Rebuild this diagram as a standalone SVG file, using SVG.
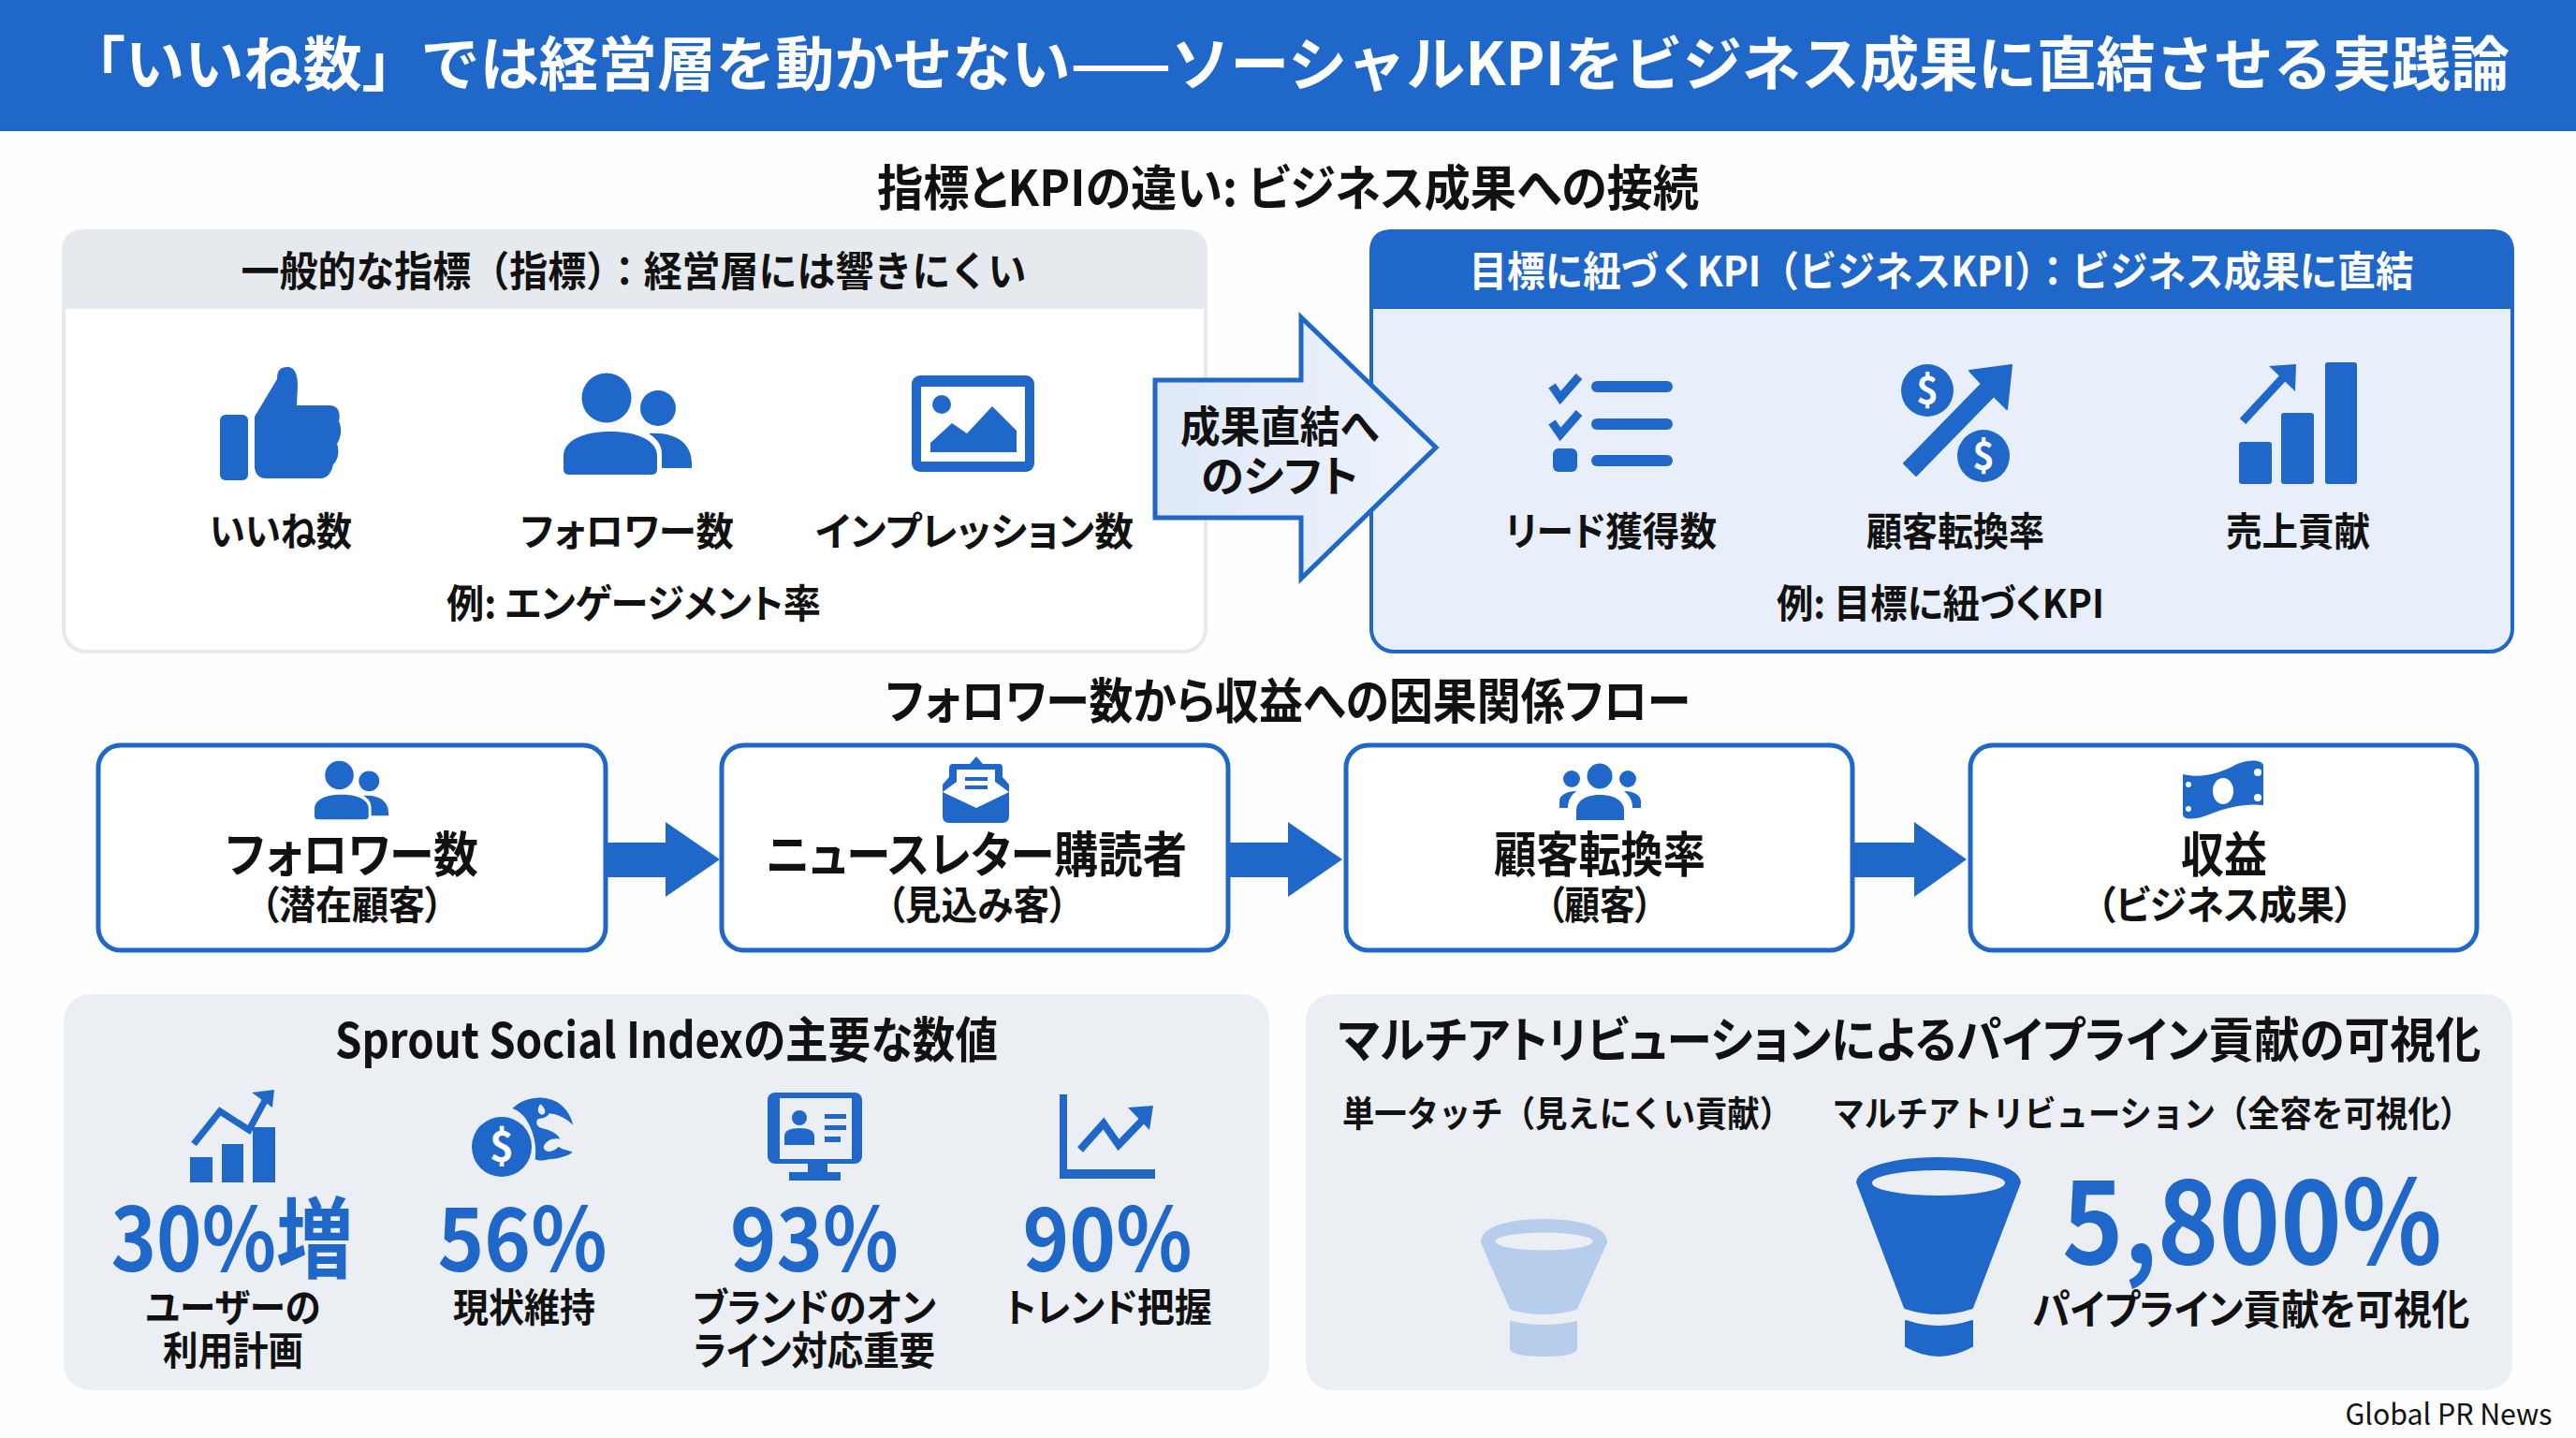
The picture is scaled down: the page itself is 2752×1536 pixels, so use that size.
<svg xmlns="http://www.w3.org/2000/svg" width="2752" height="1536" viewBox="0 0 2752 1536">
<style>
text{font-family:"Noto Sans CJK JP","Noto Sans",sans-serif;font-weight:700;fill:#111;text-anchor:middle;font-feature-settings:"palt";}
.fw{font-feature-settings:normal}
.t44{font-size:44px}.t42{font-size:42px}.t40{font-size:42px}.t50{font-size:52px}.t38{font-size:38px}
.w{fill:#fff}.num{fill:#1f67c9;font-size:94px}
.blue{fill:#1f67c9}.flowbox{fill:#fff;stroke:#1f67c9;stroke-width:5}
.soft{fill:#ebeff4}
.bar{fill:#1f67c9;stroke:none}
.ln{fill:none;stroke:#1f67c9;stroke-linejoin:miter}
</style>
<defs>
<g id="people">
<circle class="blue" cx="46" cy="26" r="26.5"/><circle class="blue" cx="101" cy="37" r="19"/>
<path class="blue" d="M0 102V88C0 72 20 62 50 62C80 62 100 72 100 88V102Q100 108 94 108H6Q0 108 0 102Z"/>
<path class="blue" d="M91 64C122 62 137 76 137 96V101H105V86C105 76 100 70 91 64Z"/>
</g>
<linearGradient id="shiftFill" x1="0" x2="1"><stop offset="0" stop-color="#dfe9f8"/><stop offset="1" stop-color="#eef3fb"/></linearGradient>
</defs>
<rect width="2752" height="1536" fill="#fefefe"/>
<g id="title-bar"><rect width="2752" height="140" class="blue"/>
<text class="w fw" x="1376" y="91" style="font-size:63px" textLength="2610" lengthAdjust="spacingAndGlyphs">「いいね数」では経営層を動かせない——ソーシャルKPIをビジネス成果に直結させる実践論</text></g>
<text class="t50" x="1376" y="220" textLength="878" lengthAdjust="spacingAndGlyphs">指標とKPIの違い: ビジネス成果への接続</text>

<g id="metrics-panel">
<rect x="68" y="247" width="1220" height="449" rx="24" fill="#fff" stroke="#e6eaef" stroke-width="4"/>
<path d="M66 330V269Q66 245 90 245H1266Q1290 245 1290 269V330Z" fill="#e6eaef"/>
<text class="t44 fw" x="677" y="306" textLength="839" lengthAdjust="spacingAndGlyphs">一般的な指標（指標）：経営層には響きにくい</text>
<g id="icon-like"><rect class="blue" x="235" y="443" width="30" height="70" rx="6"/>
<path class="blue" d="M272 445L296 405C296 395 300 392 307 392C315 392 318 400 318 412L317 433L352 433C362 433 364 442 362 450C366 458 364 468 360 474C363 482 361 492 356 496C354 505 350 511 342 511L284 511C276 511 272 505 272 498Z"/></g>
<use href="#people" x="602" y="399"/>
<g id="icon-image"><rect class="blue" x="974" y="401" width="131" height="103" rx="9"/><rect x="984" y="413" width="111" height="80" fill="#fff"/>
<circle class="blue" cx="1006" cy="432" r="10"/>
<path class="blue" d="M994 483V473L1017 452L1033 463L1060 434L1086 460V483Z"/></g>
<text class="t42" x="300" y="583" textLength="152" lengthAdjust="spacingAndGlyphs">いいね数</text>
<text class="t42" x="670" y="583" textLength="228" lengthAdjust="spacingAndGlyphs">フォロワー数</text>
<text class="t42" x="1041" y="583" textLength="340" lengthAdjust="spacingAndGlyphs">インプレッション数</text>
<text class="t42" x="677" y="660" textLength="400" lengthAdjust="spacingAndGlyphs">例: エンゲージメント率</text>
</g>

<g id="kpi-panel">
<rect x="1465" y="247" width="1219" height="449" rx="24" fill="#e8effa" stroke="#1f67c9" stroke-width="4"/>
<path class="blue" d="M1463 330V269Q1463 245 1487 245H2662Q2686 245 2686 269V330Z"/>
<text class="t44 w fw" x="2074" y="306" textLength="1009" lengthAdjust="spacingAndGlyphs">目標に紐づくKPI（ビジネスKPI）：ビジネス成果に直結</text>
<g id="icon-leads">
<path class="ln" stroke-width="9" d="M1658 412L1667 425L1687 402"/>
<path class="ln" stroke-width="9" d="M1658 451L1667 464L1687 441"/>
<rect class="bar" x="1700" y="407" width="87" height="12" rx="6"/><rect class="bar" x="1700" y="447" width="87" height="12" rx="6"/><rect class="bar" x="1700" y="486" width="87" height="12" rx="6"/>
<rect class="bar" x="1659" y="479" width="26" height="25" rx="6"/></g>
<g id="icon-conversion"><circle class="blue" cx="2059" cy="417" r="28"/><circle class="blue" cx="2119" cy="487" r="28"/>
<path class="blue" stroke="#1f67c9" stroke-width="2" stroke-linejoin="round" d="M2034 495L2117 410L2104 396L2149 390L2144 437L2130 423L2047 508Z"/>
<text class="w" x="2059" y="431" style="font-size:40px">$</text><text class="w" x="2119" y="501" style="font-size:40px">$</text></g>
<g id="icon-revenue"><rect class="bar" x="2392" y="472" width="35" height="45" rx="3"/><rect class="bar" x="2437" y="441" width="35" height="76" rx="3"/><rect class="bar" x="2484" y="387" width="34" height="130" rx="3"/>
<path class="ln" stroke-width="9" d="M2396 450L2445 397"/><path class="blue" d="M2424 391L2453 389L2452 418Z"/></g>
<text class="t42" x="1721" y="583" textLength="226" lengthAdjust="spacingAndGlyphs">リード獲得数</text>
<text class="t42" x="2089" y="583" textLength="190" lengthAdjust="spacingAndGlyphs">顧客転換率</text>
<text class="t42" x="2455" y="583" textLength="154" lengthAdjust="spacingAndGlyphs">売上貢献</text>
<text class="t42" x="2073" y="660" textLength="350" lengthAdjust="spacingAndGlyphs">例: 目標に紐づくKPI</text>
</g>

<g id="connectors">
<path id="shift-arrow" d="M1234 406H1390V339L1534 478L1390 618V553H1234Z" fill="url(#shiftFill)" stroke="#1f67c9" stroke-width="5"/>
<path class="blue" d="M647 900H711V878L769 918L711 958V937H647Z"/>
<path class="blue" d="M1312 900H1376V878L1434 918L1376 958V937H1312Z"/>
<path class="blue" d="M1979 900H2045V878L2101 918L2045 958V937H1979Z"/>
<path class="blue" d="M1831 1328L1876 1360L1831 1391Z"/>
</g>
<g id="shift-label"><text class="t44" x="1367" y="472" style="font-size:46px" textLength="212" lengthAdjust="spacingAndGlyphs">成果直結へ</text>
<text class="t44" x="1367" y="525" style="font-size:46px" textLength="168" lengthAdjust="spacingAndGlyphs">のシフト</text></g>

<text class="t50" x="1376" y="768" textLength="860" lengthAdjust="spacingAndGlyphs">フォロワー数から収益への因果関係フロー</text>

<g id="flow-followers"><rect class="flowbox" x="105" y="796" width="542" height="219" rx="24"/>
<use href="#people" transform="translate(336 813) scale(.577)"/>
<text class="t50" x="376" y="932" textLength="270" lengthAdjust="spacingAndGlyphs">フォロワー数</text>
<text class="t40" x="376" y="982" textLength="195" lengthAdjust="spacingAndGlyphs">（潜在顧客）</text></g>
<g id="flow-newsletter"><rect class="flowbox" x="771" y="796" width="541" height="219" rx="24"/>
<path class="blue" d="M1043 808L1050 816H1068Q1071 816 1071 820V830L1078 838V872Q1078 879 1071 879H1014Q1007 879 1007 872V838L1014 830V820Q1014 816 1018 816H1036Z"/>
<path fill="#fff" d="M1022 822H1063V835L1078 846L1043 863L1007 846L1022 835Z"/>
<path class="blue" d="M1031 830H1055V834H1031ZM1031 839H1055V843H1031Z"/>
<text class="t50" x="1043" y="932" textLength="450" lengthAdjust="spacingAndGlyphs">ニュースレター購読者</text>
<text class="t40" x="1044" y="982" textLength="193" lengthAdjust="spacingAndGlyphs">（見込み客）</text></g>
<g id="flow-conversion"><rect class="flowbox" x="1438" y="796" width="541" height="219" rx="24"/>
<circle class="blue" cx="1709" cy="829" r="13.5"/><circle class="blue" cx="1679" cy="832" r="9"/><circle class="blue" cx="1739" cy="832" r="9"/>
<path class="blue" d="M1684 876V866C1684 855 1695 849 1709 849C1724 849 1735 855 1735 866V876Z"/>
<path class="blue" d="M1666 863V856C1666 849 1674 845 1684 845C1678 850 1675 855 1675 863Z"/>
<path class="blue" d="M1753 863V856C1753 849 1745 845 1735 845C1741 850 1744 855 1744 863Z"/>
<text class="t50" x="1709" y="932" textLength="226" lengthAdjust="spacingAndGlyphs">顧客転換率</text>
<text class="t40" x="1709" y="982" textLength="113" lengthAdjust="spacingAndGlyphs">（顧客）</text></g>
<g id="flow-revenue"><rect class="flowbox" x="2105" y="796" width="541" height="219" rx="24"/>
<path class="blue" d="M2332 827C2352 832 2372 826 2390 816C2405 810 2418 812 2418 818V860C2400 858 2380 862 2360 870C2345 876 2332 876 2332 870Z"/>
<ellipse cx="2375" cy="845" rx="11" ry="14" fill="#fff"/>
<circle cx="2412" cy="825" r="4" fill="#fff"/><circle cx="2412" cy="852" r="4" fill="#fff"/><circle cx="2338" cy="838" r="3" fill="#fff"/><circle cx="2338" cy="864" r="3" fill="#fff"/>
<text class="t50" x="2376" y="932" textLength="92" lengthAdjust="spacingAndGlyphs">収益</text>
<text class="t40" x="2377" y="982" textLength="274" lengthAdjust="spacingAndGlyphs">（ビジネス成果）</text></g>

<g id="sprout-panel"><rect class="soft" x="68" y="1062" width="1288" height="423" rx="28"/>
<text class="t50" x="712" y="1130" textLength="708" lengthAdjust="spacingAndGlyphs">Sprout Social Indexの主要な数値</text>
<g id="stat-30"><rect class="bar" x="203" y="1236" width="24" height="27"/><rect class="bar" x="237" y="1222" width="23" height="41"/><rect class="bar" x="270" y="1204" width="24" height="59"/>
<path class="ln" stroke-width="7" d="M207 1222L235 1187L266 1207L285 1172"/><path class="blue" d="M269 1167L293 1164L291 1183Z"/>
<text class="num" x="248" y="1358" textLength="259" lengthAdjust="spacingAndGlyphs">30%増</text>
<text class="t42" x="249" y="1412" textLength="187" lengthAdjust="spacingAndGlyphs">ユーザーの</text>
<text class="t42" x="249" y="1458" textLength="150" lengthAdjust="spacingAndGlyphs">利用計画</text></g>
<g id="stat-56"><path class="blue" transform="translate(490 1160) scale(.3333)" fill-rule="evenodd" d="M172 72C200 45 240 35 270 38C320 42 355 75 367 125C345 105 320 90 290 88C285 100 270 105 255 105C245 115 250 130 265 135C290 140 315 150 325 170C300 165 280 175 272 195C275 215 300 215 320 195C335 205 350 205 365 212C350 225 320 232 290 235C270 240 255 240 245 235C250 200 245 150 215 105C205 90 190 78 172 72ZM262 58C252 72 250 88 268 92C282 90 280 72 262 58Z"/>
<circle class="blue" cx="536" cy="1225" r="32"/>
<text class="w" x="536" y="1240" style="font-size:44px">$</text>
<text class="num" x="558" y="1358" textLength="181" lengthAdjust="spacingAndGlyphs">56%</text>
<text class="t42" x="560" y="1412" textLength="152" lengthAdjust="spacingAndGlyphs">現状維持</text></g>
<g id="stat-93"><rect class="blue" x="820" y="1167" width="101" height="76" rx="8"/><rect class="soft" x="833" y="1173" width="77" height="65"/>
<rect class="bar" x="863" y="1243" width="21" height="9"/><rect class="bar" x="843" y="1252" width="55" height="9"/>
<circle class="blue" cx="854" cy="1194" r="8"/><path class="blue" d="M838 1223V1214Q838 1205 854 1205Q870 1205 870 1214V1223Z"/>
<rect class="bar" x="881" y="1190" width="23" height="5"/><rect class="bar" x="881" y="1202" width="23" height="5"/><rect class="bar" x="881" y="1214" width="17" height="6"/>
<text class="num" x="870" y="1358" textLength="180" lengthAdjust="spacingAndGlyphs">93%</text>
<text class="t42" x="870" y="1412" textLength="260" lengthAdjust="spacingAndGlyphs">ブランドのオン</text>
<text class="t42" x="870" y="1458" textLength="258" lengthAdjust="spacingAndGlyphs">ライン対応重要</text></g>
<g id="stat-90"><path class="blue" d="M1132 1169H1140V1249H1234V1259H1132Z"/>
<path class="ln" stroke-width="8" d="M1154 1228L1179 1200L1195 1223L1222 1195"/><path class="blue" d="M1205 1183L1232 1181L1228 1207Z"/>
<text class="num" x="1183" y="1358" textLength="181" lengthAdjust="spacingAndGlyphs">90%</text>
<text class="t42" x="1184" y="1412" textLength="221" lengthAdjust="spacingAndGlyphs">トレンド把握</text></g>
</g>

<g id="attribution-panel"><rect class="soft" x="1395" y="1062" width="1289" height="423" rx="28"/>
<text class="t50" x="2040" y="1130" textLength="1221" lengthAdjust="spacingAndGlyphs">マルチアトリビューションによるパイプライン貢献の可視化</text>
<text class="t38 fw" x="1674" y="1203" textLength="480" lengthAdjust="spacingAndGlyphs">単一タッチ（見えにくい貢献）</text>
<text class="t38 fw" x="2299" y="1203" textLength="683" lengthAdjust="spacingAndGlyphs">マルチアトリビューション（全容を可視化）</text>
<g id="funnel-small"><path fill="#b7cdec" stroke="#b7cdec" stroke-width="2" stroke-linejoin="round" d="M1583 1327C1583 1311 1612 1303 1649 1303C1687 1303 1716 1311 1716 1327L1684 1398Q1649 1408 1614 1398ZM1614 1412Q1649 1420 1684 1412V1440Q1684 1448 1649 1448Q1614 1448 1614 1440Z"/>
<ellipse class="soft" cx="1649.5" cy="1326" rx="52" ry="9.5"/></g>
<g id="funnel-large"><path class="blue" stroke="#1f67c9" stroke-width="2" stroke-linejoin="round" d="M1984 1263C1986 1247 2024 1237 2071 1237C2118 1237 2156 1247 2158 1263L2107 1397Q2071 1409 2035 1397ZM2036 1411Q2071 1423 2107 1411V1438Q2071 1458 2036 1438Z"/>
<ellipse class="soft" cx="2071" cy="1263.5" rx="71" ry="13.5"/></g>
<text class="blue" x="2406" y="1350" style="font-size:124px" textLength="406" lengthAdjust="spacingAndGlyphs">5,800%</text>
<text class="t44" x="2405" y="1415" textLength="467" lengthAdjust="spacingAndGlyphs">パイプライン貢献を可視化</text>
</g>
<text id="source" x="2616" y="1522" style="font-size:31px;font-weight:400" textLength="221" lengthAdjust="spacingAndGlyphs">Global PR News</text>
</svg>
